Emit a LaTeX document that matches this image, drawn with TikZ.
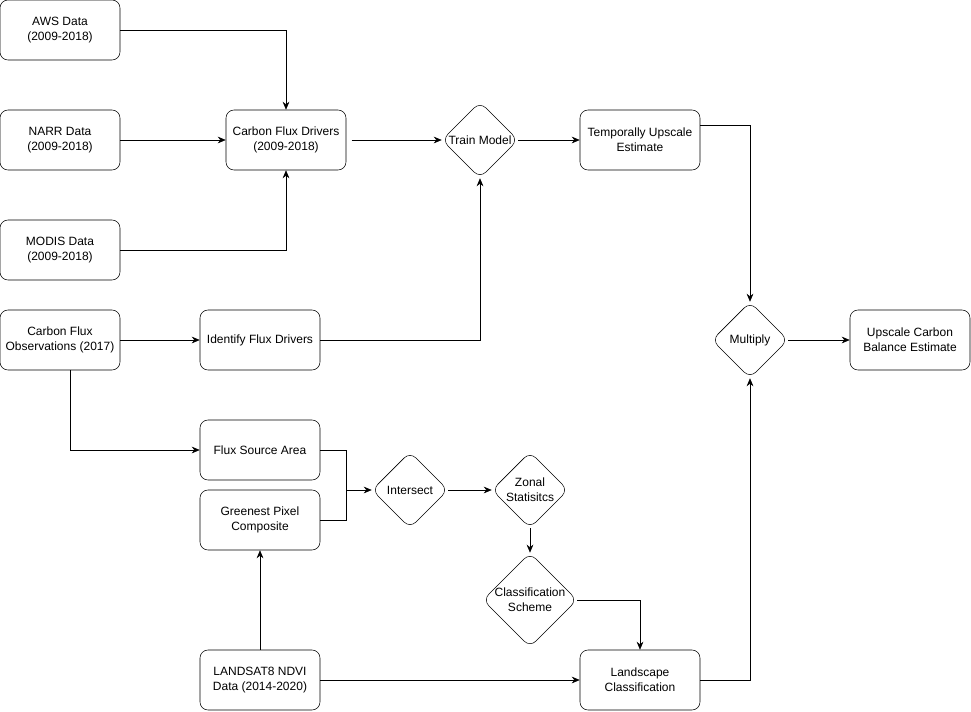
\documentclass[tikz,border=0pt]{standalone}
\usepackage{fontspec}
\setmainfont{Liberation Sans}
\usetikzlibrary{shapes.geometric,arrows.meta}

\begin{document}
\begin{tikzpicture}[
    x=0.75pt, y=-0.75pt,
    font=\fontsize{9}{11}\selectfont,
    box/.style={draw, rounded corners=6pt, minimum width=90pt, minimum height=45pt, align=center, inner sep=1pt},
    choice/.style={draw, diamond, rounded corners=6pt, minimum width=57pt, minimum height=57pt, align=center, inner sep=0pt},
    flow/.style={-{Stealth[length=6pt,width=5pt]}}
  ]
  \useasboundingbox (0,0) rectangle (971,711);
  % inputs
  \node[box] (aws) at (60,30) {AWS Data\\(2009-2018)};
  \node[box] (narr) at (60,140) {NARR Data\\(2009-2018)};
  \node[box] (modis) at (60,250) {MODIS Data\\(2009-2018)};
  \node[box] (obs) at (60,340) {Carbon Flux\\Observations (2017)};
  \node[box] (drivers) at (286,140) {Carbon Flux Drivers\\(2009-2018)};
  \node[box] (ident) at (260,340) {Identify Flux Drivers};
  \node[box] (source) at (260,450) {Flux Source Area};
  \node[box] (green) at (260,520) {Greenest Pixel\\Composite};
  \node[box] (landsat) at (260,680) {LANDSAT8 NDVI\\Data (2014-2020)};
  % processing
  \node[choice] (train) at (480,140) {Train Model};
  \node[box] (temporal) at (640,140) {Temporally Upscale\\Estimate};
  \node[choice] (inter) at (410,490) {Intersect};
  \node[choice] (zonal) at (530,490) {Zonal\\Statisitcs};
  \node[choice] (scheme) at (530,600) {Classification\\Scheme};
  \node[box] (landscape) at (640,680) {Landscape\\Classification};
  \node[choice] (mult) at (750,340) {Multiply};
  \node[box] (upscale) at (910,340) {Upscale Carbon\\Balance Estimate};
  % connectors
  \draw[flow] (aws.east) -| (drivers.north);
  \draw[flow] (narr) -- (drivers);
  \draw[flow] (modis.east) -| (drivers.south);
  \draw[flow] ([xshift=4pt]drivers.east) -- (train);
  \draw[flow] (train) -- (temporal);
  \draw[flow] ([yshift=11pt]temporal.east) -| (mult.north);
  \draw[flow] (obs) -- (ident);
  \draw[flow] (ident.east) -| (train.south);
  \draw[flow] ([xshift=7.5pt]obs.south) |- (source.west);
  \coordinate (join) at (346,490);
  \draw (source.east) -| (join);
  \draw (green.east) -| (join);
  \draw[flow] (join) -- (inter);
  \draw[flow] (inter) -- (zonal);
  \draw[flow] (zonal) -- (scheme);
  \draw[flow] (scheme.east) -| (landscape.north);
  \draw[flow] (landsat) -- (green);
  \draw[flow] (landsat) -- (landscape);
  \draw[flow] (landscape.east) -| (mult.south);
  \draw[flow] (mult) -- (upscale);
\end{tikzpicture}
\end{document}
